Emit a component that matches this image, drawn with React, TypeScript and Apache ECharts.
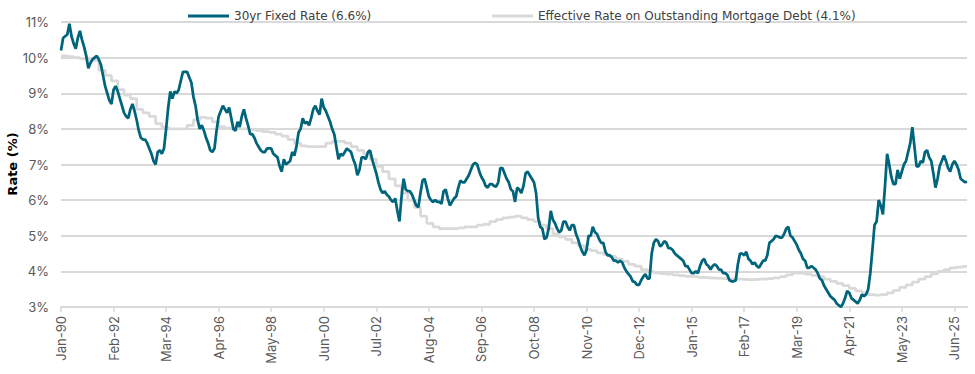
import React, { useEffect, useRef } from 'react';
import * as echarts from 'echarts';

const MONTH_NAMES = ['Jan', 'Feb', 'Mar', 'Apr', 'May', 'Jun', 'Jul', 'Aug', 'Sep', 'Oct', 'Nov', 'Dec'];
const FIRST_YEAR = 1990;
const LAST_YEAR = 2025;

const categories: string[] = [];
for (let y = FIRST_YEAR; y <= LAST_YEAR; y++) {
  for (const m of MONTH_NAMES) categories.push(`${m}-${String(y % 100).padStart(2, '0')}`);
}

const FIXED_NAME = '30yr Fixed Rate (6.6%)';
const EFF_NAME = 'Effective Rate on Outstanding Mortgage Debt (4.1%)';
const Y_TITLE = 'Rate (%)';

// 30yr fixed rate, monthly
const fixed1990s = [
  10.2, 10.55, 10.6, 10.65, 10.95, 10.6, 10.4, 10.25, 10.55, 10.75, 10.5, 10.3,
  10.05, 9.7, 9.85, 9.95, 10.0, 10.05, 9.95, 9.8, 9.5, 9.2, 9.0, 8.8,
  8.7, 9.1, 9.2, 9.05, 8.85, 8.65, 8.45, 8.35, 8.3, 8.55, 8.7, 8.5,
  8.25, 7.95, 7.75, 7.7, 7.7, 7.6, 7.45, 7.3, 7.1, 7.0, 7.35, 7.4,
  7.3, 7.45, 8.0, 8.6, 9.05, 8.85, 9.05, 9.0, 9.1, 9.35, 9.6, 9.6,
  9.6, 9.45, 9.3, 8.9, 8.65, 8.25, 8.0, 8.1, 7.95, 7.75, 7.6, 7.4,
  7.35, 7.45, 7.95, 8.35, 8.5, 8.65, 8.55, 8.45, 8.6, 8.3, 8.0, 7.95,
  8.2, 8.05, 8.35, 8.55, 8.3, 8.1, 7.85, 7.85, 7.75, 7.6, 7.5, 7.4,
  7.35, 7.35, 7.45, 7.45, 7.45, 7.3, 7.25, 7.2, 6.95, 6.8, 7.15, 7.0,
  7.05, 7.1, 7.35, 7.25, 7.5, 7.9, 8.0, 8.3, 8.15, 8.2, 8.1, 8.3,
];
const fixed2000s = [
  8.55, 8.65, 8.5, 8.4, 8.85, 8.6, 8.5, 8.35, 8.2, 8.0, 7.85, 7.5,
  7.15, 7.3, 7.25, 7.35, 7.45, 7.4, 7.35, 7.15, 7.0, 6.7, 6.85, 7.2,
  7.2, 7.15, 7.35, 7.4, 7.15, 6.95, 6.75, 6.5, 6.3, 6.2, 6.25, 6.15,
  6.1, 6.0, 5.95, 6.05, 5.7, 5.4, 6.1, 6.6, 6.3, 6.25, 6.25, 6.15,
  6.0, 5.85, 5.8, 6.2, 6.55, 6.6, 6.35, 6.1, 6.0, 5.95, 6.0, 5.95,
  5.95, 5.9, 6.25, 6.3, 6.05, 5.85, 5.95, 6.05, 6.1, 6.35, 6.55, 6.5,
  6.5, 6.6, 6.7, 6.85, 7.0, 7.05, 7.0, 6.8, 6.65, 6.55, 6.4, 6.35,
  6.45, 6.45, 6.4, 6.38, 6.5, 6.9, 6.9, 6.75, 6.6, 6.5, 6.3, 6.25,
  5.95, 6.35, 6.3, 6.2, 6.4, 6.75, 6.8, 6.7, 6.6, 6.5, 6.2, 5.5,
  5.25, 5.2, 4.9, 4.95, 5.2, 5.7, 5.45, 5.35, 5.2, 5.1, 5.15, 5.4,
];
const fixed2010s = [
  5.4, 5.25, 5.15, 5.3, 5.3, 5.05, 4.9, 4.7, 4.55, 4.45, 4.6, 5.0,
  5.0, 5.25, 5.1, 5.05, 4.9, 4.8, 4.8, 4.55, 4.45, 4.45, 4.4, 4.3,
  4.3, 4.25, 4.3, 4.25, 4.1, 4.0, 3.92, 3.85, 3.72, 3.7, 3.62, 3.62,
  3.75, 3.85, 3.92, 3.8, 3.8, 4.5, 4.8, 4.9, 4.85, 4.7, 4.75, 4.85,
  4.8, 4.65, 4.65, 4.6, 4.5, 4.45, 4.4, 4.35, 4.3, 4.15, 4.15, 4.05,
  3.95, 3.95, 4.0, 3.95, 4.15, 4.3, 4.35, 4.2, 4.15, 4.05, 4.15, 4.2,
  4.15, 4.05, 4.05, 3.95, 3.95, 3.9, 3.75, 3.72, 3.72, 3.75, 4.2, 4.5,
  4.5, 4.45, 4.55, 4.35, 4.3, 4.2, 4.25, 4.15, 4.1, 4.2, 4.3, 4.3,
  4.45, 4.8, 4.85, 4.9, 5.0, 4.98, 4.95, 4.95, 5.05, 5.2, 5.25, 5.0,
  4.95, 4.85, 4.75, 4.6, 4.5, 4.35, 4.3, 4.1, 4.1, 4.15, 4.1, 4.05,
];
const fixed2020s = [
  3.95, 3.8, 3.75, 3.6, 3.5, 3.4, 3.3, 3.25, 3.2, 3.1, 3.05, 3.0,
  3.1, 3.25, 3.45, 3.4, 3.25, 3.2, 3.15, 3.1, 3.2, 3.35, 3.3, 3.35,
  3.5, 3.95, 4.6, 5.3, 5.4, 6.0, 5.85, 5.6, 6.4, 7.3, 7.0, 6.65,
  6.45, 6.45, 6.85, 6.6, 6.8, 7.0, 7.1, 7.35, 7.6, 8.05, 7.5, 6.95,
  6.95, 7.1, 7.05, 7.35, 7.4, 7.2, 7.1, 6.75, 6.35, 6.6, 6.95, 7.1,
  7.25, 7.1, 6.9, 6.8, 7.0, 7.1, 7.0, 6.85, 6.6, 6.55, 6.5, 6.52,
];

// Effective rate on outstanding mortgage debt, quarterly
const effective1990s = [
  10.05, 10.03, 10.0, 9.97, 9.95, 9.92, 9.65, 9.5, 9.35, 9.1, 8.95, 8.85,
  8.55, 8.45, 8.35, 8.15, 8.05, 8.0, 8.0, 8.0, 8.1, 8.25, 8.32, 8.3,
  8.2, 8.06, 8.02, 8.0, 8.0, 8.0, 7.98, 7.95, 7.92, 7.9, 7.85, 7.8,
  7.7, 7.6, 7.52, 7.5,
];
const effective2000s = [
  7.5, 7.5, 7.6, 7.65, 7.65, 7.6, 7.5, 7.4, 7.3, 7.15, 6.95, 6.8,
  6.6, 6.4, 6.2, 6.0, 5.8, 5.55, 5.35, 5.25, 5.2, 5.2, 5.2, 5.22,
  5.25, 5.25, 5.3, 5.32, 5.4, 5.45, 5.5, 5.52, 5.55, 5.5, 5.45, 5.4,
  5.3, 5.2, 5.05, 4.97,
];
const effective2010s = [
  4.9, 4.8, 4.72, 4.62, 4.58, 4.52, 4.48, 4.42, 4.35, 4.28, 4.2, 4.15,
  4.05, 4.0, 3.96, 3.94, 3.92, 3.9, 3.88, 3.86, 3.85, 3.83, 3.82, 3.81,
  3.8, 3.8, 3.78, 3.78, 3.77, 3.77, 3.78, 3.78, 3.8, 3.82, 3.85, 3.9,
  3.95, 3.95, 3.92, 3.89,
];
const effective2020s = [
  3.85, 3.78, 3.72, 3.66, 3.6, 3.52, 3.45, 3.4, 3.35, 3.33, 3.35, 3.4,
  3.47, 3.55, 3.62, 3.7, 3.78, 3.85, 3.93, 4.0, 4.05, 4.1, 4.12, 4.14,
];

const yTicks = { min: 3, max: 11, interval: 1 };

const fixedRate = [...fixed1990s, ...fixed2000s, ...fixed2010s, ...fixed2020s];
const effectiveQuarterly = [...effective1990s, ...effective2000s, ...effective2010s, ...effective2020s];

const FONT = 'Inter, "Open Sans", sans-serif';
const WIDE_FONT = '"DejaVu Sans", sans-serif';

export default function App() {
  const ref = useRef<HTMLDivElement>(null);
  useEffect(() => {
    if (!ref.current) return;
    const chart = echarts.init(ref.current, null, { renderer: 'svg' });
    const effectiveData: [string, number][] = effectiveQuarterly.map((v, q) => [categories[q * 3], v]);
    effectiveData.push([categories[categories.length - 1], effectiveQuarterly[effectiveQuarterly.length - 1]]);
    const legendText = { color: '#404040', fontSize: 12, fontFamily: WIDE_FONT };
    chart.setOption({
      animation: false,
      textStyle: { fontFamily: FONT },
      grid: { left: 61, right: 8, top: 22, bottom: 67, containLabel: false, outerBoundsMode: 'none' },
      legend: [
        { data: [FIXED_NAME], left: 183, top: 5, icon: 'rect', itemWidth: 41, itemHeight: 3, itemGap: 0, textStyle: legendText },
        { data: [EFF_NAME], left: 487, top: 5, icon: 'rect', itemWidth: 41, itemHeight: 3, itemGap: 0, textStyle: legendText },
      ],
      graphic: [
        {
          type: 'text',
          x: 12,
          y: 164,
          rotation: Math.PI / 2,
          style: {
            text: Y_TITLE,
            fill: '#000000',
            font: `bold 13px ${WIDE_FONT}`,
            align: 'center',
            verticalAlign: 'middle',
          },
        },
      ],
      xAxis: {
        type: 'category',
        data: categories,
        boundaryGap: false,
        axisLine: { lineStyle: { color: '#d9d9d9', width: 2 } },
        axisTick: { interval: 24, length: 5, lineStyle: { color: '#d9d9d9', width: 1.5 } },
        axisLabel: { interval: 24, rotate: 90, margin: 9, color: '#595959', fontSize: 13, fontFamily: FONT },
        splitLine: { show: false },
      },
      yAxis: {
        type: 'value',
        min: yTicks.min,
        max: yTicks.max,
        interval: yTicks.interval,
        axisLine: { show: false },
        axisTick: { show: false },
        axisLabel: { formatter: '{value}%', color: '#595959', fontSize: 13, margin: 12, fontFamily: FONT },
        splitLine: { lineStyle: { color: '#d9d9d9', width: 2 } },
      },
      series: [
        {
          type: 'line',
          name: EFF_NAME,
          data: effectiveData,
          step: 'end',
          symbol: 'none',
          showSymbol: false,
          lineStyle: { color: '#d9d9d9', width: 2.75 },
          itemStyle: { color: '#d9d9d9' },
          z: 2,
        },
        {
          type: 'line',
          name: FIXED_NAME,
          data: fixedRate,
          symbol: 'none',
          showSymbol: false,
          lineStyle: { color: '#00647a', width: 2.75 },
          itemStyle: { color: '#00647a' },
          z: 3,
        },
      ],
    });
    return () => chart.dispose();
  }, []);
  return <div ref={ref} style={{ position: 'absolute', left: 0, top: 0, width: 975, height: 374 }} />;
}
